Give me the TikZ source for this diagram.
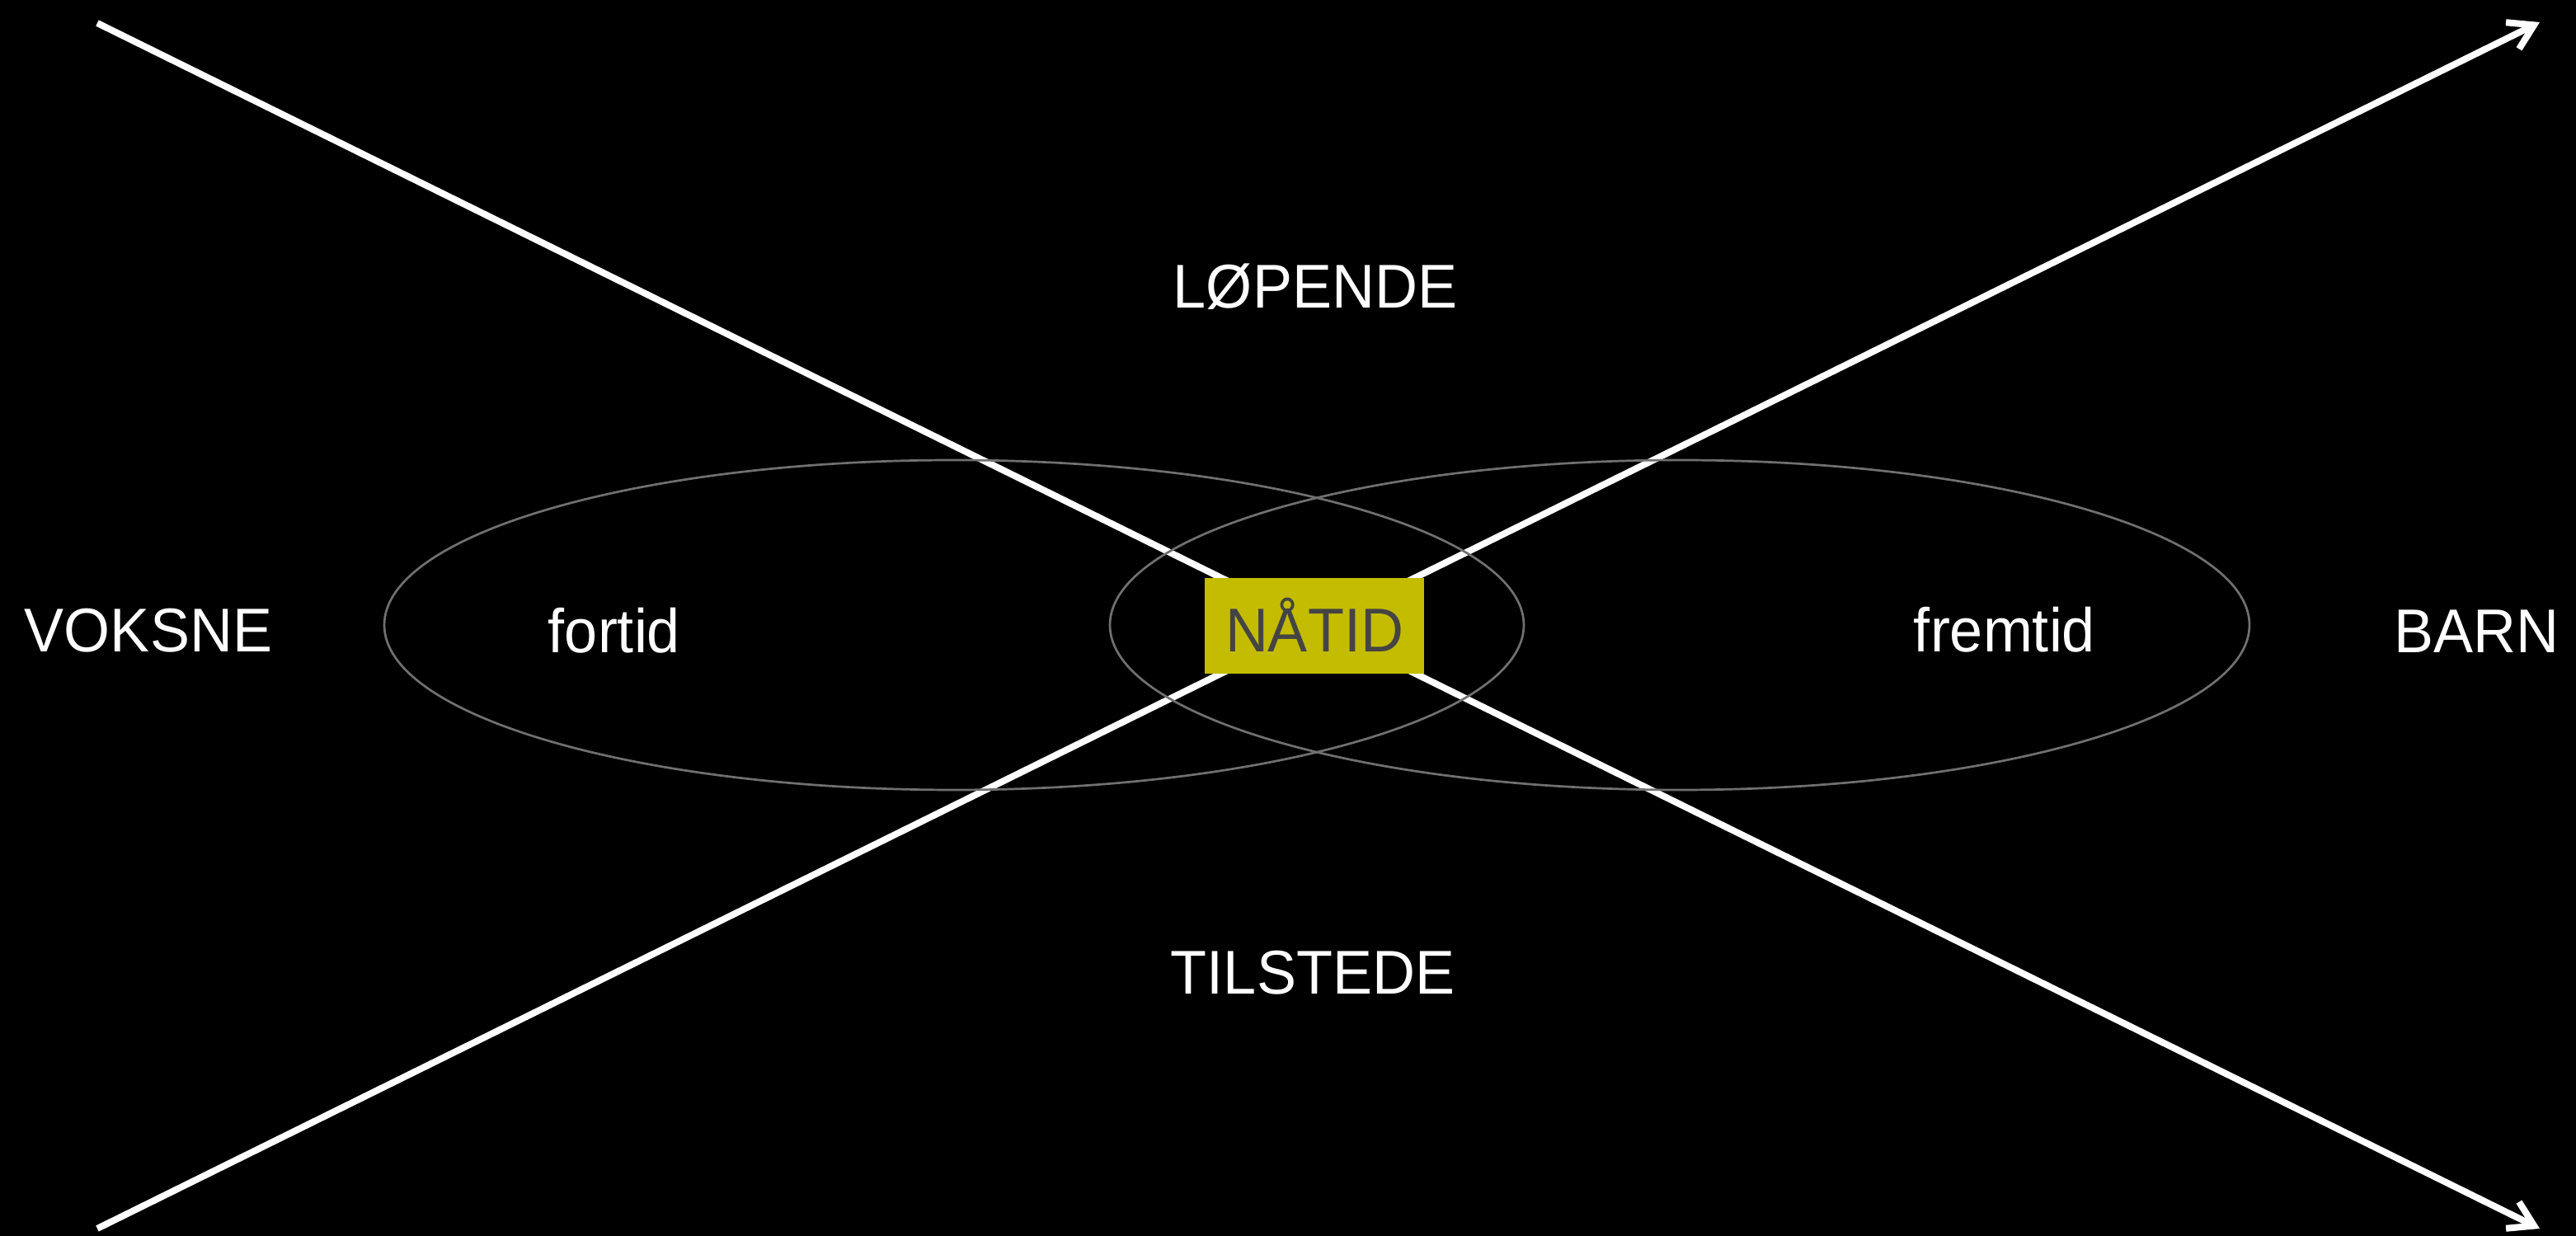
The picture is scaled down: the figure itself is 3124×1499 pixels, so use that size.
\documentclass[tikz,border=0pt]{standalone}
\usepackage{fontspec}
\setmainfont{Liberation Sans}[FakeStretch=0.96]
\usetikzlibrary{arrows.meta}
\definecolor{ellgray}{HTML}{707070}
\definecolor{boxyellow}{HTML}{C4BC00}
\definecolor{boxtext}{HTML}{444444}
\tikzset{
  axisline/.style={draw=white, line width=1.92pt, line cap=butt},
  axisarrow/.style={axisline, -{Straight Barb[length=7pt,width=8.6pt]}},
  ellline/.style={draw=ellgray, line width=0.65pt},
  lbl/.style={text=white, font=\fontsize{18}{20}\selectfont, anchor=base, inner sep=0pt},
  nowbox/.style={fill=boxyellow, text=boxtext, font=\fontsize{18}{20}\selectfont,
    minimum width=63.84pt, minimum height=27.84pt, inner sep=0pt,
    text height=15.36pt, text depth=0pt},
}
\begin{document}
\begin{tikzpicture}[x=0.24pt, y=-0.24pt]
  \fill[black] (0,0) rectangle (3124,1499);
  \useasboundingbox (0,0) rectangle (3124,1499);

  \coordinate (tl) at (118,28);
  \coordinate (bl) at (118,1490);
  \coordinate (tr) at (3080,27);
  \coordinate (br) at (3080,1490);

  \draw[axisarrow] (tl) -- (br);
  \draw[axisarrow] (bl) -- (tr);

  \draw[ellline] (1157,758) ellipse [x radius=165.84pt, y radius=48pt];
  \draw[ellline] (2037,758) ellipse [x radius=165.84pt, y radius=48pt];

  \node[nowbox] (natid) at (1594,759) {NÅTID};

  \node[lbl] (lopende) at (1595,374) {LØPENDE};
  \node[lbl] (tilstede) at (1592,1206) {TILSTEDE};
  \node[lbl] (voksne) at (180,791) {VOKSNE};
  \node[lbl] (barn) at (3003,792) {BARN};
  \node[lbl] (fortid) at (745,792) {fortid};
  \node[lbl] (fremtid) at (2431,791) {fremtid};
\end{tikzpicture}
\end{document}
